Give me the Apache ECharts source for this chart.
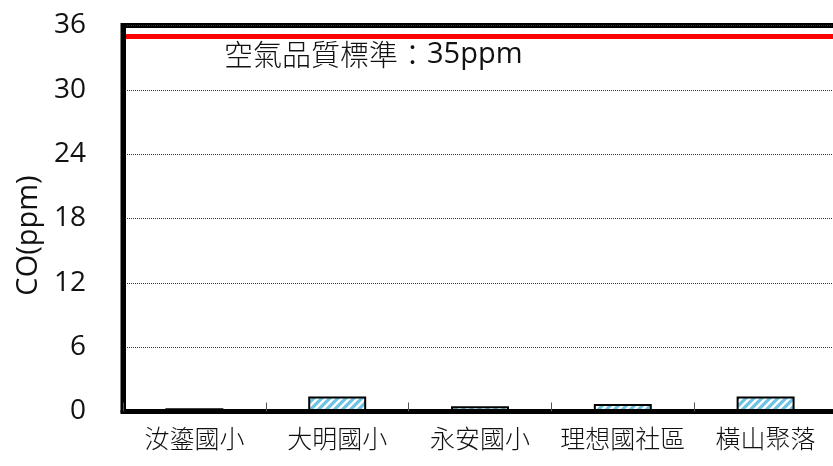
<!DOCTYPE html>
<html>
<head>
<meta charset="utf-8">
<script src="https://cdn.jsdelivr.net/npm/echarts@6/dist/echarts.min.js"></script>
<style>
  html, body { margin: 0; padding: 0; background: #fff; }
  #chart { width: 833px; height: 466px; }
</style>
</head>
<body>
<div id="chart"></div>
<script>
// Monitoring stations and their CO readings (ppm)
const stations = ['汝鎏國小', '大明國小', '永安國小', '理想國社區', '橫山聚落'];
const coValues = [0.3, 1.4, 0.5, 0.7, 1.4];
// Air quality standard for CO (ppm)
const standardValue = 35;
const standardName = '空氣品質標準：';
const standardText = '35ppm';
// Y-axis scale
const yMin = 0;
const yMax = 36;
const yStep = 6;

const LATIN = "'Open Sans', 'Noto Sans CJK TC', sans-serif";
const CJK = "'Noto Sans CJK TC', sans-serif";

// Diagonal light-blue hatch used to fill the bars
function makeHatch() {
  const c = document.createElement('canvas');
  const s = 8;
  c.width = s; c.height = s;
  const g = c.getContext('2d');
  g.fillStyle = '#ffffff';
  g.fillRect(0, 0, s, s);
  g.strokeStyle = '#6cc3e4';
  g.lineWidth = 3.2;
  g.beginPath();
  g.moveTo(-2, s + 2); g.lineTo(s + 2, -2);
  g.moveTo(-2, 2); g.lineTo(2, -2);
  g.moveTo(s - 2, s + 2); g.lineTo(s + 2, s - 2);
  g.stroke();
  return c;
}

const chart = echarts.init(document.getElementById('chart'), null, { renderer: 'canvas' });

chart.setOption({
  animation: false,
  backgroundColor: '#ffffff',
  grid: {
    left: 123, right: -4, top: 25.5, bottom: 54.5,
    outerBoundsMode: 'none',
    containLabel: false,
    show: true, borderColor: '#000', borderWidth: 5, backgroundColor: 'transparent'
  },
  xAxis: {
    type: 'category',
    data: stations,
    z: 5,
    axisLine: { show: true, lineStyle: { color: '#000', width: 5 } },
    axisTick: { show: true, inside: true, length: 9, lineStyle: { color: '#555', width: 1 } },
    axisLabel: { interval: 0, color: '#111', fontSize: 25, fontWeight: 300, fontFamily: CJK, margin: 14 },
    splitLine: { show: false }
  },
  yAxis: {
    type: 'value',
    min: yMin, max: yMax, interval: yStep,
    z: 5,
    name: 'CO(ppm)',
    nameLocation: 'middle',
    nameGap: 80,
    nameRotate: 90,
    nameTextStyle: { color: '#111', fontSize: 29, fontWeight: 400, fontFamily: LATIN, padding: [0, 34, 0, 0] },
    axisLine: { show: true, lineStyle: { color: '#000', width: 5 } },
    axisTick: { show: false },
    axisLabel: { color: '#111', fontSize: 28, fontWeight: 400, fontFamily: LATIN, margin: 37 },
    splitLine: { show: true, lineStyle: { color: '#333', width: 1, type: 'dotted' } }
  },
  series: [{
    type: 'bar',
    data: coValues,
    barWidth: '40.6%',
    itemStyle: {
      color: { image: makeHatch(), repeat: 'repeat' },
      borderColor: '#000',
      borderWidth: 2
    },
    markLine: {
      silent: true,
      symbol: 'none',
      lineStyle: { color: '#ff0000', width: 5, type: 'solid' },
      label: {
        show: true,
        position: 'insideStartBottom',
        distance: [101, 4],
        formatter: '{c|' + standardName + '}{n|' + standardText + '}',
        rich: {
          c: { color: '#111', fontSize: 29, fontWeight: 300, fontFamily: CJK },
          n: { color: '#111', fontSize: 29, fontWeight: 400, fontFamily: LATIN }
        }
      },
      data: [{ yAxis: standardValue }]
    }
  }]
});
</script>
</body>
</html>
